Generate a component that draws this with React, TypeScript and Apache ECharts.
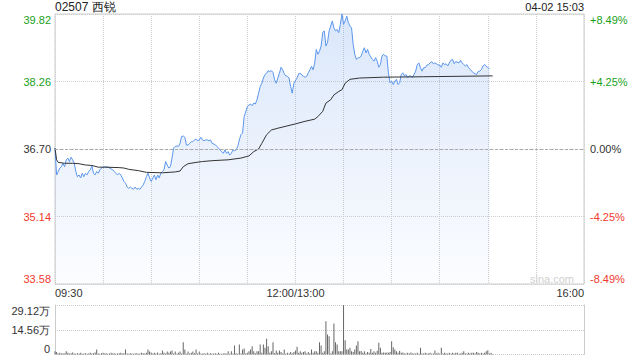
import React, { useEffect, useRef } from "react";
import * as echarts from "echarts";

// ---- data ----
const prevClose = 36.7;
const priceStep = 1.56;
const priceTickLabels = ["33.58", "35.14", "36.70", "38.26", "39.82"];
const pctTickLabels = ["-8.49%", "-4.25%", "0.00%", "+4.25%", "+8.49%"];
const volTickLabels = ["0", "14.56万", "29.12万"];
const volMax = 29.12; // 万
const timeTickMinutes = [0, 150, 330];
const timeTickLabels = ["09:30", "12:00/13:00", "16:00"];

const priceMinutes = [
  0, 1, 2, 3, 4, 5, 6, 7, 8, 9, 10, 11, 12, 13, 14, 15, 16, 17, 18, 19, 20, 21, 22, 23, 24, 25, 26, 27, 28, 29,
  30, 31, 32, 33, 34, 36, 37, 38, 39, 40, 41, 42, 43, 44, 45, 46, 47, 48, 49, 50, 51, 52, 53, 54, 55, 56, 57, 58, 59,
  60, 62, 63, 64, 65, 66, 67, 68, 69, 70, 71, 72, 73, 74, 75, 76, 77, 78, 79, 80, 81, 82, 83, 84, 85, 86, 87, 88, 89,
  90, 91, 92, 93, 94, 95, 96, 97, 98, 100, 101, 102, 103, 104, 105, 106, 107, 108, 109, 110, 111, 112, 113, 114, 115,
  116, 117, 118, 120, 121, 122, 123, 124, 125, 126, 127, 128, 129, 130, 131, 132, 133, 134, 135, 136, 137, 138, 139,
  140, 141, 142, 143, 144, 145, 146, 147, 148, 149, 151, 152, 153, 154, 155, 156, 157, 158, 159, 160, 161, 162, 163,
  164, 165, 166, 167, 168, 169, 170, 171, 173, 174, 175, 176, 177, 178, 179, 180, 181, 182, 183, 184, 185, 186, 187,
  188, 189, 190, 191, 192, 193, 194, 195, 196, 198, 199, 200, 201, 202, 203, 204, 205, 206, 207, 208, 209, 210, 211,
  212, 213, 214, 215, 216, 217, 218, 219, 220, 221, 222, 223, 225, 226, 227, 228, 229, 230, 231, 232, 233, 234, 235,
  236, 237, 238, 239, 240, 241, 242, 243, 244, 245, 246, 247, 248, 249, 250, 252, 253, 254, 255, 256, 257, 258, 259,
  260, 261, 262, 263, 264, 265, 266, 267, 268, 269, 270, 271, 273,
];
const prices = [
  36.72, 36.1, 36.18, 36.26, 36.29, 36.37, 36.29, 36.45, 36.49, 36.41, 36.51, 36.45, 36.37, 36.18, 36.06, 36.1, 36.03,
  36.14, 36.06, 36.14, 36.1, 36.18, 36.22, 36.31, 36.14, 36.1, 36.18, 36.14, 36.22, 36.26, 36.28, 36.29, 36.28, 36.29,
  36.26, 36.22, 36.18, 36.14, 36.1, 36.14, 36.1, 36.03, 35.95, 35.91, 35.82, 35.79, 35.82, 35.79, 35.77, 35.82, 35.77,
  35.79, 35.77, 35.82, 35.87, 35.95, 36.06, 36.14, 36.03, 35.95, 36.1, 35.99, 36.1, 36.03, 36.14, 36.18, 36.22, 36.41,
  36.33, 36.26, 36.29, 36.49, 36.72, 36.76, 36.77, 36.76, 36.83, 36.99, 37.0, 36.97, 36.79, 36.79, 36.83, 36.87, 36.87,
  36.91, 36.93, 36.89, 36.91, 36.97, 36.91, 36.89, 36.91, 36.91, 36.89, 36.91, 36.83, 36.8, 36.76, 36.72, 36.68, 36.64,
  36.6, 36.68, 36.6, 36.64, 36.56, 36.6, 36.68, 36.66, 36.68, 36.76, 36.91, 37.03, 37.07, 37.45, 37.68, 37.72, 37.74,
  37.7, 37.76, 37.74, 37.84, 37.99, 38.14, 38.22, 38.34, 38.42, 38.45, 38.51, 38.49, 38.51, 38.47, 38.3, 38.22, 38.34,
  38.45, 38.59, 38.53, 38.44, 38.39, 38.38, 38.34, 38.14, 37.99, 38.22, 38.34, 38.44, 38.45, 38.41, 38.38, 38.36, 38.38,
  38.46, 38.53, 38.61, 38.53, 38.69, 39.0, 38.89, 38.96, 39.08, 39.39, 39.43, 39.08, 39.16, 39.43, 39.66, 39.5, 39.43,
  39.46, 39.39, 39.58, 39.82, 39.58, 39.66, 39.77, 39.62, 39.54, 39.5, 39.12, 38.89, 38.77, 38.81, 38.81, 38.85, 38.96,
  39.04, 38.92, 39.0, 38.89, 38.77, 38.73, 38.81, 38.73, 38.59, 38.65, 38.85, 38.89, 38.85, 38.85, 38.46, 38.23, 38.27,
  38.19, 38.27, 38.31, 38.19, 38.23, 38.42, 38.46, 38.39, 38.42, 38.35, 38.39, 38.39, 38.35, 38.5, 38.65, 38.69, 38.58,
  38.5, 38.58, 38.58, 38.64, 38.65, 38.69, 38.72, 38.67, 38.69, 38.67, 38.64, 38.64, 38.59, 38.69, 38.65, 38.67, 38.62,
  38.69, 38.75, 38.77, 38.67, 38.72, 38.69, 38.75, 38.69, 38.65, 38.62, 38.65, 38.58, 38.54, 38.5, 38.46, 38.44, 38.42,
  38.49, 38.5, 38.54, 38.62, 38.65, 38.62, 38.58, 38.56,
];

const avgMinutes = [
  0, 1, 2, 6, 11, 15, 19, 23, 27, 31, 40, 43, 46, 52, 57, 67, 75, 78, 80, 83, 88, 92, 98, 108, 116, 121, 124, 127, 129,
  132, 135, 139, 150, 156, 162, 164, 167, 169, 172, 174, 177, 179, 181, 184, 190, 205, 230, 273,
];
const avgPrices = [
  36.72, 36.45, 36.39, 36.37, 36.37, 36.36, 36.33, 36.32, 36.28, 36.28, 36.27, 36.26, 36.23, 36.2, 36.16, 36.15, 36.17,
  36.19, 36.29, 36.36, 36.39, 36.41, 36.43, 36.45, 36.49, 36.54, 36.64, 36.7, 36.83, 37.03, 37.14, 37.18, 37.28, 37.34,
  37.39, 37.45, 37.57, 37.76, 37.84, 37.95, 38.03, 38.07, 38.22, 38.31, 38.34, 38.36, 38.37, 38.39,
];

// volume per minute, in 万 shares, minutes 0..273
const volumes = [
  1.9, 1.4, 0.6, 1.0, 0.6, 0.8, 0.6, 1.9, 1.0, 0.6,
  0.8, 1.2, 0.6, 0.4, 0.8, 0.6, 1.0, 0.5, 0.6, 0.8,
  0.4, 0.6, 1.0, 0.6, 0.8, 1.2, 2.9, 0.6, 0.4, 0.8,
  1.0, 0.6, 0.8, 0.4, 0.6, 1.0, 0.6, 0.8, 0.5, 0.6,
  0.8, 1.0, 0.6, 0.8, 2.9, 0.6, 0.4, 0.8, 0.6, 0.5,
  0.6, 0.8, 0.4, 0.6, 1.0, 0.8, 0.6, 1.0, 2.9, 1.8,
  1.2, 0.6, 1.0, 0.6, 1.2, 0.4, 0.8, 2.4, 1.0, 0.6,
  1.8, 1.0, 1.8, 2.4, 0.6, 1.8, 0.5, 1.0, 1.8, 0.6,
  7.2, 2.9, 0.5, 1.8, 0.6, 1.0, 1.8, 0.8, 2.9, 0.6,
  1.8, 0.6, 0.4, 0.8, 0.4, 1.0, 0.5, 0.8, 0.4, 0.6,
  0.8, 0.4, 1.0, 0.5, 0.4, 0.6, 0.8, 0.4, 1.9, 0.5,
  1.9, 0.6, 5.3, 0.8, 0.4, 5.9, 0.6, 2.9, 3.5, 0.6,
  1.0, 1.9, 2.9, 4.9, 1.9, 0.8, 1.9, 1.9, 5.9, 1.0,
  5.9, 3.9, 9.2, 4.9, 1.0, 1.9, 7.2, 0.8, 2.4, 1.0,
  2.4, 1.4, 0.6, 2.9, 0.4, 1.0, 0.6, 1.4, 0.8, 1.4,
  2.4, 4.5, 1.0, 1.9, 1.0, 1.4, 1.9, 0.6, 1.4, 0.8,
  2.9, 1.0, 1.9, 1.9, 1.0, 7.2, 5.3, 1.0, 1.9, 19.6,
  11.8, 10.8, 0.6, 1.9, 18.2, 7.2, 5.9, 1.9, 1.9, 1.9,
  29.12, 8.4, 2.9, 2.9, 3.9, 1.9, 1.4, 2.9, 5.3, 7.8,
  1.9, 2.0, 1.0, 1.9, 0.6, 1.4, 1.0, 3.3, 1.0, 1.9,
  1.0, 2.2, 6.9, 3.9, 1.0, 1.2, 1.0, 1.2, 1.0, 1.4,
  7.8, 4.3, 2.9, 1.9, 1.0, 2.2, 1.0, 1.2, 0.6, 0.6,
  1.0, 0.6, 1.2, 0.6, 0.6, 0.6, 1.0, 0.4, 3.9, 0.6,
  0.6, 1.0, 0.6, 0.6, 1.0, 0.4, 0.6, 2.4, 0.6, 1.0,
  0.4, 3.9, 0.6, 1.0, 0.6, 0.6, 1.0, 0.4, 1.0, 0.6,
  1.0, 1.0, 0.4, 0.6, 1.0, 1.9, 0.6, 0.6, 1.0, 0.6,
  1.0, 1.0, 0.6, 1.4, 1.0, 0.6, 1.0, 0.6, 1.0, 1.9,
  2.5, 0.6, 1.0, 0.3,
];

const titleText = "02507 西锐";
const stampText = "04-02 15:03";
const watermark = "sina.com";

const GREEN = "#1a9f1a";
const RED = "#f03a2e";
const DARK = "#333333";
const FONT = "'Liberation Sans', Arial, sans-serif";

export default function App() {
  const ref = useRef<HTMLDivElement>(null);

  useEffect(() => {
    if (!ref.current) return;
    const chart = echarts.init(ref.current, undefined, { renderer: "svg" });

    const priceData = priceMinutes.map((m, i) => [m, +(prices[i] - prevClose).toFixed(4)]);
    const avgData = avgMinutes.map((m, i) => [m, +(avgPrices[i] - prevClose).toFixed(4)]);
    const volData = volumes.map((v, i) => [i, v]);

    const tickIndex = (v: number) => Math.round(v / priceStep) + 2;

    const priceRich = {
      gTop: { color: GREEN, padding: [11, 0, 0, 0], fontSize: 11, fontFamily: FONT },
      g: { color: GREEN, fontSize: 11, fontFamily: FONT },
      n: { color: DARK, fontSize: 11, fontFamily: FONT },
      r: { color: RED, fontSize: 11, fontFamily: FONT },
      rBot: { color: RED, padding: [0, 0, 11, 0], fontSize: 11, fontFamily: FONT },
    };
    const styleFor = (i: number) => ["rBot", "r", "n", "g", "gTop"][i];

    const option: any = {
      animation: false,
      backgroundColor: "#ffffff",
      grid: [
        { left: 55, right: 56, top: 14, height: 270, show: true, borderColor: "#cccccc", borderWidth: 1 },
        { left: 55, right: 56, top: 305, height: 49.5 },
      ],
      xAxis: [
        {
          type: "value",
          gridIndex: 0,
          min: 0,
          max: 330,
          interval: 30,
          axisLine: { show: false },
          axisTick: { show: false },
          splitLine: { show: true, lineStyle: { color: "#cfcfcf", type: [1, 1] } },
          axisLabel: {
            margin: 3,
            fontSize: 11,
            fontFamily: FONT,
            color: DARK,
            showMinLabel: true,
            showMaxLabel: true,
            alignMinLabel: "left",
            alignMaxLabel: "right",
            formatter: (v: number) => {
              const k = timeTickMinutes.indexOf(Math.round(v));
              return k >= 0 ? timeTickLabels[k] : "";
            },
          },
        },
        {
          type: "value",
          gridIndex: 1,
          min: 0,
          max: 330,
          interval: 30,
          show: false,
        },
      ],
      yAxis: [
        {
          type: "value",
          gridIndex: 0,
          min: -2 * priceStep,
          max: 2 * priceStep,
          interval: priceStep,
          axisLine: { show: false },
          axisTick: { show: false },
          splitLine: { show: true, lineStyle: { color: "#cfcfcf", type: [1, 1] } },
          axisLabel: {
            margin: 4,
            showMinLabel: true,
            showMaxLabel: true,
            formatter: (v: number) => {
              const i = tickIndex(v);
              return `{${styleFor(i)}|${priceTickLabels[i]}}`;
            },
            rich: priceRich,
          },
        },
        {
          type: "value",
          gridIndex: 0,
          position: "right",
          min: -2 * priceStep,
          max: 2 * priceStep,
          interval: priceStep,
          axisLine: { show: false },
          axisTick: { show: false },
          splitLine: { show: false },
          axisLabel: {
            margin: 6,
            showMinLabel: true,
            showMaxLabel: true,
            formatter: (v: number) => {
              const i = tickIndex(v);
              return `{${styleFor(i)}|${pctTickLabels[i]}}`;
            },
            rich: priceRich,
          },
        },
        {
          type: "value",
          gridIndex: 1,
          min: 0,
          max: volMax,
          interval: volMax / 2,
          axisLine: { show: true, lineStyle: { color: "#cccccc" } },
          axisTick: { show: false },
          splitLine: { show: true, lineStyle: { color: "#cccccc", type: [1, 1], width: 1 } },
          axisLabel: {
            margin: 5,
            showMinLabel: true,
            showMaxLabel: true,
            formatter: (v: number) => {
              const i = Math.round(v / (volMax / 2));
              const s = i === 2 ? "top" : i === 0 ? "bot" : "mid";
              return `{${s}|${volTickLabels[i]}}`;
            },
            rich: {
              top: { color: DARK, padding: [11, 0, 0, 0], fontSize: 11, fontFamily: FONT },
              mid: { color: DARK, fontSize: 11, fontFamily: FONT },
              bot: { color: DARK, padding: [0, 0, 11, 0], fontSize: 11, fontFamily: FONT },
            },
          },
        },
        {
          type: "value",
          gridIndex: 1,
          position: "right",
          min: 0,
          max: volMax,
          interval: volMax / 2,
          axisLine: { show: true, lineStyle: { color: "#cccccc" } },
          axisTick: { show: false },
          axisLabel: { show: false },
          splitLine: { show: false },
        },
      ],
      series: [
        {
          type: "line",
          xAxisIndex: 0,
          yAxisIndex: 0,
          data: priceData,
          showSymbol: false,
          symbol: "none",
          lineStyle: { color: "#5b96ec", width: 1 },
          areaStyle: {
            origin: "start",
            color: new echarts.graphic.LinearGradient(0, 0, 0, 1, [
              { offset: 0, color: "rgba(92,148,236,0.32)" },
              { offset: 1, color: "rgba(92,148,236,0.03)" },
            ]),
          },
          markLine: {
            silent: true,
            symbol: "none",
            label: { show: false },
            lineStyle: { color: "#aaaaaa", type: [3, 2], width: 1 },
            data: [{ yAxis: 0 }],
          },
          z: 3,
        },
        {
          type: "line",
          xAxisIndex: 0,
          yAxisIndex: 0,
          data: avgData,
          showSymbol: false,
          symbol: "none",
          lineStyle: { color: "#333333", width: 1 },
          z: 4,
        },
        {
          type: "bar",
          xAxisIndex: 1,
          yAxisIndex: 2,
          data: volData,
          barWidth: 1,
          itemStyle: { color: "#666666" },
        },
      ],
      graphic: [
        {
          type: "text",
          x: 55,
          y: 7,
          style: { text: titleText, fill: "#222222", fontSize: 12, fontFamily: FONT, align: "left", verticalAlign: "middle" },
        },
        {
          type: "text",
          x: 584,
          y: 7,
          style: { text: stampText, fill: "#222222", fontSize: 11, fontFamily: FONT, align: "right", verticalAlign: "middle" },
        },
        {
          type: "text",
          x: 552,
          y: 279,
          style: { text: watermark, fill: "#cfcfcf", fontSize: 11, fontFamily: FONT, align: "center", verticalAlign: "middle" },
        },
      ],
    };

    chart.setOption(option);
    return () => chart.dispose();
  }, []);

  return <div ref={ref} style={{ position: "fixed", left: 0, top: 0, width: 640, height: 360 }} />;
}
